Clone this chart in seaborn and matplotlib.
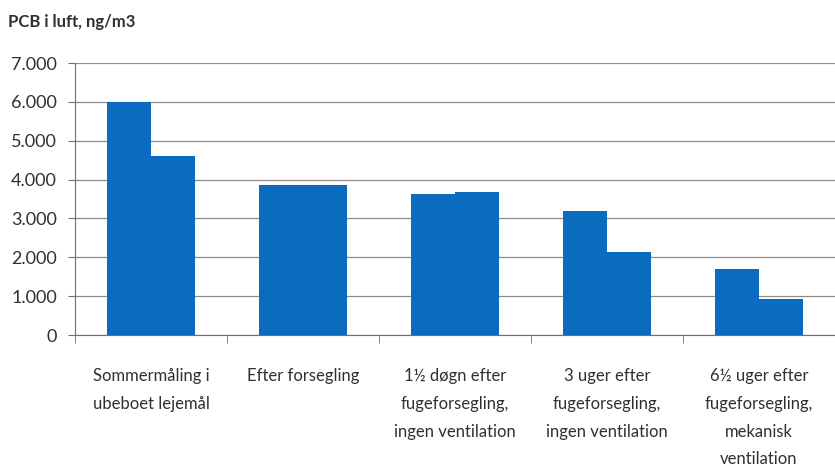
import matplotlib
matplotlib.use("Agg")
import pandas as pd
import matplotlib.pyplot as plt
import seaborn as sns
from matplotlib.ticker import FuncFormatter, FixedLocator

# Data
kategorier = [
    "Sommermåling i\nubeboet lejemål",
    "Efter forsegling",
    "1½ døgn efter\nfugeforsegling,\ningen ventilation",
    "3 uger efter\nfugeforsegling,\ningen ventilation",
    "6½ uger efter\nfugeforsegling,\nmekanisk\nventilation",
]
maaling_1 = [5990, 3850, 3630, 3200, 1700]
maaling_2 = [4600, 3850, 3670, 2130, 930]
y_ticks = [0, 1000, 2000, 3000, 4000, 5000, 6000, 7000]

df = pd.DataFrame({
    "kategori": kategorier * 2,
    "serie": ["m1"] * len(kategorier) + ["m2"] * len(kategorier),
    "vaerdi": maaling_1 + maaling_2,
})

sns.set_style("white")
plt.rcParams["font.family"] = ["Lato", "DejaVu Sans"]

blaa = "#0B6CBF"
fig = plt.figure(figsize=(8.35, 4.75), dpi=100)
ax = fig.add_axes([75 / 835, 1 - 335 / 475, 760 / 835, 272 / 475])

sns.barplot(data=df, x="kategori", y="vaerdi", hue="serie", order=kategorier,
            palette=[blaa, blaa], width=0.58, gap=0, saturation=1,
            legend=False, ax=ax, errorbar=None, linewidth=0)

ax.set_xlim(-0.5, 4.5)
ax.set_ylim(0, 7000)
ax.set_yticks(y_ticks)
ax.yaxis.set_major_formatter(FuncFormatter(lambda v, p: f"{int(v):,}".replace(",", ".")))
ax.grid(axis="y", color="#8c8c8c", linewidth=0.9)
ax.set_axisbelow(True)
ax.set_xlabel("")
ax.set_ylabel("")

for s in ["top", "right"]:
    ax.spines[s].set_visible(False)
ax.spines["left"].set_color("#707070")
ax.spines["bottom"].set_color("#707070")

# tick marks between the groups
ax.xaxis.set_minor_locator(FixedLocator([-0.5, 0.5, 1.5, 2.5, 3.5]))
ax.tick_params(axis="x", which="minor", length=6, color="#707070", direction="out", bottom=True)
ax.tick_params(axis="x", which="major", length=0, pad=24, labelsize=12, labelcolor="#303030")
ax.tick_params(axis="y", length=5, color="#707070", left=True, pad=8, labelsize=13, labelcolor="#303030")
for lbl in ax.get_xticklabels():
    lbl.set_linespacing(1.9)

fig.text(8 / 835, 1 - 22 / 475, "PCB i luft, ng/m3", fontsize=12, fontweight="bold",
         color="#303030", va="center", ha="left")

fig.savefig("out.png", dpi=100)
